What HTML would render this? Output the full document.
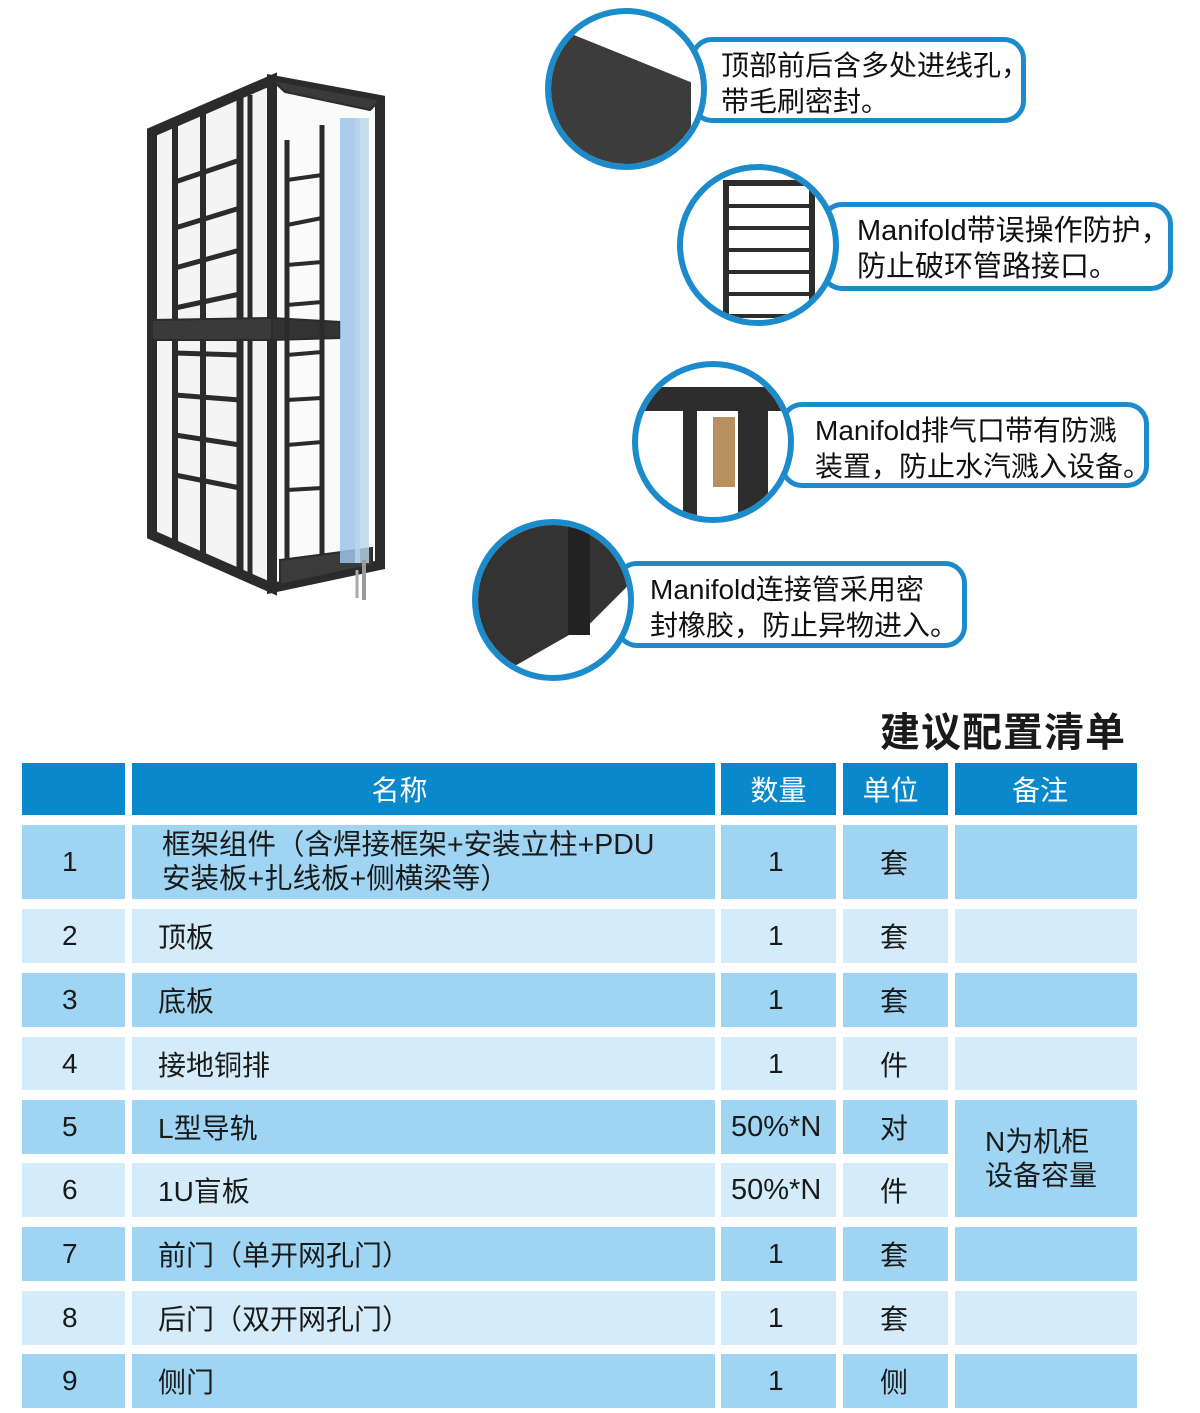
<!DOCTYPE html>
<html><head><meta charset="utf-8">
<style>
body{margin:0;width:1200px;height:1413px;background:#fff;position:relative;overflow:hidden;font-family:"Liberation Sans","Noto Sans CJK SC",sans-serif;color:#1a1a1a}
.c{position:absolute;box-sizing:border-box}
.lab{position:absolute;box-sizing:border-box;border:5px solid #1b8bcb;border-radius:22px;background:#fff;font-size:28px;line-height:36px;padding:6px 0 0 24px;color:#111;white-space:nowrap}
.circ{position:absolute;box-sizing:border-box;border:6px solid #1b8bcb;border-radius:50%;background:#fff;overflow:hidden}
.cell{position:absolute;box-sizing:border-box;font-size:28px;display:flex;align-items:center}
.h{background:#0a88cc;color:#fff;justify-content:center}
.d{background:#9fd5f3}
.l{background:#d4ecf9}
</style></head><body>

<svg class="c" style="left:0;top:0" width="520" height="640" viewBox="0 0 520 640">
 <g stroke="#2b2b2b" fill="none">
  <polygon points="152,132 272,80 272,588 152,535" fill="#f4f4f4" stroke-width="10"/>
  <polygon points="272,80 380,100 380,565 272,588" fill="#fafafa" stroke-width="10"/>
  <polygon points="272,80 380,100 370,110 285,92" fill="#3a3a3a" stroke-width="2"/>
  <line x1="175" y1="124" x2="175" y2="545" stroke-width="6"/>
  <line x1="203" y1="112" x2="203" y2="555" stroke-width="6"/>
  <line x1="240" y1="98" x2="240" y2="570" stroke-width="7"/>
  <line x1="250" y1="95" x2="250" y2="574" stroke-width="5"/>
  <g stroke-width="5">
   <line x1="175" y1="182" x2="240" y2="160"/><line x1="175" y1="228" x2="240" y2="208"/>
   <line x1="175" y1="268" x2="240" y2="250"/><line x1="175" y1="308" x2="240" y2="294"/>
   <line x1="175" y1="353" x2="240" y2="355"/><line x1="175" y1="395" x2="240" y2="400"/>
   <line x1="175" y1="435" x2="240" y2="445"/><line x1="175" y1="475" x2="240" y2="488"/>
  </g>
  <polygon points="152,320 272,318 272,340 152,340" fill="#3a3a3a" stroke-width="2"/>
  <polygon points="272,318 340,322 340,338 272,340" fill="#333" stroke-width="2"/>
  <line x1="287" y1="140" x2="287" y2="565" stroke-width="5"/>
  <line x1="322" y1="125" x2="322" y2="555" stroke-width="5"/>
  <g stroke-width="4">
   <line x1="287" y1="180" x2="322" y2="175"/><line x1="287" y1="225" x2="322" y2="218"/>
   <line x1="287" y1="265" x2="322" y2="262"/><line x1="287" y1="305" x2="322" y2="302"/>
   <line x1="287" y1="355" x2="322" y2="352"/><line x1="287" y1="400" x2="322" y2="398"/>
   <line x1="287" y1="445" x2="322" y2="442"/><line x1="287" y1="490" x2="322" y2="488"/>
  </g>
  <polygon points="280,560 372,548 372,565 280,585" fill="#3b3b3b" stroke-width="2"/>
 </g>
 <rect x="340" y="118" width="20" height="445" fill="#9cc4e8" opacity="0.85"/>
 <rect x="355" y="118" width="14" height="445" fill="#b9d6ee" opacity="0.8"/>
 <line x1="364" y1="560" x2="364" y2="600" stroke="#999" stroke-width="4"/>
 <line x1="357" y1="570" x2="357" y2="598" stroke="#aaa" stroke-width="3"/>
</svg>

<div class="lab" style="left:690px;top:37px;width:336px;height:86px;padding-left:26px">顶部前后含多处进线孔，<br>带毛刷密封。</div>
<div class="circ" style="left:545px;top:8px;width:162px;height:162px">
 <div style="position:absolute;left:0;top:40px;width:140px;height:130px;background:#3c3c3c;transform:skewY(22deg)"></div>
</div>

<div class="lab" style="left:820px;top:202px;width:353px;height:89px;padding-left:32px;font-size:29px">Manifold带误操作防护，<br>防止破环管路接口。</div>
<div class="circ" style="left:677px;top:164px;width:162px;height:162px">
 <div style="position:absolute;left:40px;top:10px;width:80px;height:150px;border:6px solid #2d2d2d;background:repeating-linear-gradient(180deg,#fff 0 18px,#2d2d2d 18px 22px)"></div>
</div>

<div class="lab" style="left:780px;top:402px;width:369px;height:86px;padding-left:30px;font-size:28px">Manifold排气口带有防溅<br>装置，防止水汽溅入设备。</div>
<div class="circ" style="left:632px;top:361px;width:162px;height:162px">
 <div style="position:absolute;left:0;top:20px;width:170px;height:24px;background:#2d2d2d"></div>
 <div style="position:absolute;left:45px;top:20px;width:14px;height:150px;background:#2d2d2d"></div>
 <div style="position:absolute;left:100px;top:20px;width:30px;height:150px;background:#2d2d2d"></div>
 <div style="position:absolute;left:75px;top:50px;width:22px;height:70px;background:#b79060"></div>
</div>

<div class="lab" style="left:615px;top:561px;width:352px;height:87px;padding-left:30px;font-size:28px">Manifold连接管采用密<br>封橡胶，防止异物进入。</div>
<div class="circ" style="left:472px;top:519px;width:162px;height:162px">
 <div style="position:absolute;left:0;top:0;width:162px;height:162px;background:#333;clip-path:polygon(0 0,100% 0,100% 30%,70% 60%,0 100%)"></div>
 <div style="position:absolute;left:90px;top:0;width:22px;height:110px;background:#222"></div>
</div>

<div class="c" style="left:880px;top:700px;font-size:40px;font-weight:bold;color:#1a1a1a;letter-spacing:1px">建议配置清单</div>

<div class="cell h" style="left:22px;top:763px;width:103px;height:52px"></div>
<div class="cell h" style="left:132px;top:763px;width:583px;height:52px;padding-right:48px">名称</div>
<div class="cell h" style="left:721px;top:763px;width:115px;height:52px">数量</div>
<div class="cell h" style="left:843px;top:763px;width:105px;height:52px;padding-right:10px">单位</div>
<div class="cell h" style="left:955px;top:763px;width:182px;height:52px;padding-right:12px">备注</div>

<div class="cell d" style="left:22px;top:825px;width:103px;height:74px;padding-left:40px">1</div>
<div class="cell d" style="left:132px;top:825px;width:583px;height:74px;padding-left:30px;line-height:34px;font-size:28.5px">框架组件（含焊接框架+安装立柱+PDU<br>安装板+扎线板+侧横梁等）</div>
<div class="cell d" style="left:721px;top:825px;width:115px;height:74px;padding-left:47px">1</div>
<div class="cell d" style="left:843px;top:825px;width:105px;height:74px;padding-left:37px">套</div>
<div class="cell d" style="left:955px;top:825px;width:182px;height:74px"></div>

<div class="cell l" style="left:22px;top:909px;width:103px;height:54px;padding-left:40px">2</div>
<div class="cell l" style="left:132px;top:909px;width:583px;height:54px;padding-left:26px">顶板</div>
<div class="cell l" style="left:721px;top:909px;width:115px;height:54px;padding-left:47px">1</div>
<div class="cell l" style="left:843px;top:909px;width:105px;height:54px;padding-left:37px">套</div>
<div class="cell l" style="left:955px;top:909px;width:182px;height:54px"></div>

<div class="cell d" style="left:22px;top:973px;width:103px;height:54px;padding-left:40px">3</div>
<div class="cell d" style="left:132px;top:973px;width:583px;height:54px;padding-left:26px">底板</div>
<div class="cell d" style="left:721px;top:973px;width:115px;height:54px;padding-left:47px">1</div>
<div class="cell d" style="left:843px;top:973px;width:105px;height:54px;padding-left:37px">套</div>
<div class="cell d" style="left:955px;top:973px;width:182px;height:54px"></div>

<div class="cell l" style="left:22px;top:1037px;width:103px;height:53px;padding-left:40px">4</div>
<div class="cell l" style="left:132px;top:1037px;width:583px;height:53px;padding-left:26px">接地铜排</div>
<div class="cell l" style="left:721px;top:1037px;width:115px;height:53px;padding-left:47px">1</div>
<div class="cell l" style="left:843px;top:1037px;width:105px;height:53px;padding-left:37px">件</div>
<div class="cell l" style="left:955px;top:1037px;width:182px;height:53px"></div>

<div class="cell d" style="left:22px;top:1100px;width:103px;height:54px;padding-left:40px">5</div>
<div class="cell d" style="left:132px;top:1100px;width:583px;height:54px;padding-left:26px">L型导轨</div>
<div class="cell d" style="left:721px;top:1100px;width:115px;height:54px;padding-left:10px;font-size:29px">50%*N</div>
<div class="cell d" style="left:843px;top:1100px;width:105px;height:54px;padding-left:37px">对</div>

<div class="cell l" style="left:22px;top:1163px;width:103px;height:54px;padding-left:40px">6</div>
<div class="cell l" style="left:132px;top:1163px;width:583px;height:54px;padding-left:26px">1U盲板</div>
<div class="cell l" style="left:721px;top:1163px;width:115px;height:54px;padding-left:10px;font-size:29px">50%*N</div>
<div class="cell l" style="left:843px;top:1163px;width:105px;height:54px;padding-left:37px">件</div>

<div class="cell d" style="left:955px;top:1100px;width:182px;height:117px;padding-left:30px;line-height:34px">N为机柜<br>设备容量</div>

<div class="cell d" style="left:22px;top:1227px;width:103px;height:54px;padding-left:40px">7</div>
<div class="cell d" style="left:132px;top:1227px;width:583px;height:54px;padding-left:26px">前门（单开网孔门）</div>
<div class="cell d" style="left:721px;top:1227px;width:115px;height:54px;padding-left:47px">1</div>
<div class="cell d" style="left:843px;top:1227px;width:105px;height:54px;padding-left:37px">套</div>
<div class="cell d" style="left:955px;top:1227px;width:182px;height:54px"></div>

<div class="cell l" style="left:22px;top:1291px;width:103px;height:54px;padding-left:40px">8</div>
<div class="cell l" style="left:132px;top:1291px;width:583px;height:54px;padding-left:26px">后门（双开网孔门）</div>
<div class="cell l" style="left:721px;top:1291px;width:115px;height:54px;padding-left:47px">1</div>
<div class="cell l" style="left:843px;top:1291px;width:105px;height:54px;padding-left:37px">套</div>
<div class="cell l" style="left:955px;top:1291px;width:182px;height:54px"></div>

<div class="cell d" style="left:22px;top:1354px;width:103px;height:54px;padding-left:40px">9</div>
<div class="cell d" style="left:132px;top:1354px;width:583px;height:54px;padding-left:26px">侧门</div>
<div class="cell d" style="left:721px;top:1354px;width:115px;height:54px;padding-left:47px">1</div>
<div class="cell d" style="left:843px;top:1354px;width:105px;height:54px;padding-left:37px">侧</div>
<div class="cell d" style="left:955px;top:1354px;width:182px;height:54px"></div>
</body></html>
